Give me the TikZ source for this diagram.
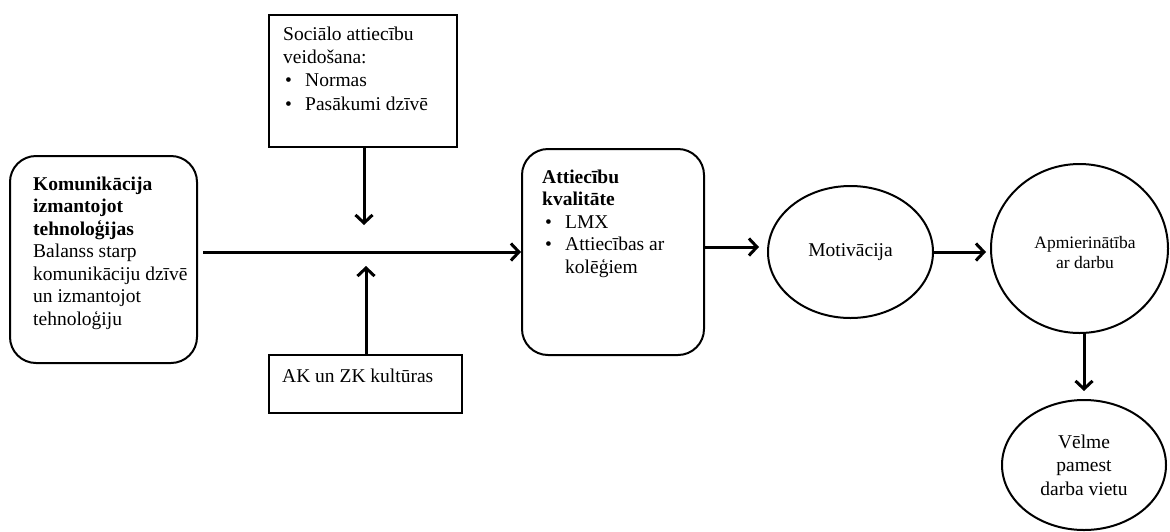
\documentclass[tikz,border=0pt]{standalone}
\usepackage{fontspec}
\setmainfont{Liberation Serif}
\usetikzlibrary{arrows.meta,shapes.geometric}
% bullet followed by a fixed indent
\newcommand\itemdot[1]{\hspace*{#1}\makebox[20pt][l]{•}}

\begin{document}
\begin{tikzpicture}[x=1pt,y=-1pt,
  boxline/.style={draw, line width=2pt},
  roundbox/.style={boxline, rounded corners=26pt, inner sep=0pt},
  sqbox/.style={boxline, inner sep=0pt},
  oval/.style={boxline, ellipse, inner sep=0pt, align=center},
  txt/.style={anchor=north west, inner sep=0pt, align=left, font=\fontsize{19.5}{22.5}\selectfont},
  arr/.style={line width=3pt, -{Straight Barb[length=8pt,width=17pt]}}
]
\useasboundingbox (0,0) rectangle (1170,531);

% boxes
\node[roundbox, minimum width=187pt, minimum height=207pt] (komm) at (103.5,259.5) {};
\node[sqbox, minimum width=188pt, minimum height=132pt] (social) at (363,81) {};
\node[sqbox, minimum width=193pt, minimum height=58pt] (ak) at (365.5,384) {};
\node[roundbox, minimum width=182pt, minimum height=206pt] (attiec) at (613,252) {};

% box texts (placed by the top of their first line)
\node[txt] (kommtxt) at (33,176.5) {\textbf{Komunikācija}\\\textbf{izmantojot}\\\textbf{tehnoloģijas}\\Balanss starp\\komunikāciju dzīvē\\un izmantojot\\tehnoloģiju};
\node[txt, font=\fontsize{19.5}{23.3}\selectfont] (socialtxt) at (283,26.5) {Sociālo attiecību\\veidošana:\\\itemdot{2pt}Normas\\\itemdot{2pt}Pasākumi dzīvē};
\node[txt] (aktxt) at (282,368.5) {AK un ZK kultūras};
\node[txt] (attiectxt) at (542,169.5) {\textbf{Attiecību}\\\textbf{kvalitāte}\\\itemdot{3pt}LMX\\\itemdot{3pt}Attiecības ar\\\hspace*{23pt}kolēģiem};

% outcome ellipses
\node[oval, minimum width=165pt, minimum height=132pt, font=\fontsize{19.5}{22.5}\selectfont] (motiv) at (850.5,252) {Motivācija};
\node[oval, minimum width=177pt, minimum height=169pt] (apm) at (1079.5,248.5) {};
\node[align=center, inner sep=0pt, font=\fontsize{17.5}{20}\selectfont] (apmtxt) at (1085,253) {Apmierinātība\\ar darbu};
\node[oval, minimum width=164pt, minimum height=130pt, font=\fontsize{19.5}{23.5}\selectfont] (velme) at (1084,465) {Vēlme\\pamest\\darba vietu};

% moderator arrow ends
\coordinate (jd) at (364,225);
\coordinate (ju) at (366,266);

% connectors
\draw[arr] ([xshift=5pt]komm.east |- attiec.west) -- (attiec.west);
\draw[arr] (social.south -| jd) -- (jd);
\draw[arr] (ak.north -| ju) -- (ju);
\draw[arr] ([yshift=5pt]attiec.east) -- ([xshift=-8pt,yshift=5pt]motiv.west);
\draw[arr] (motiv.east) -- ([xshift=-4pt]apm.west |- motiv.east);
\draw[arr] (apm.south -| velme.north) -- ([yshift=8pt]velme.north);
\end{tikzpicture}
\end{document}
